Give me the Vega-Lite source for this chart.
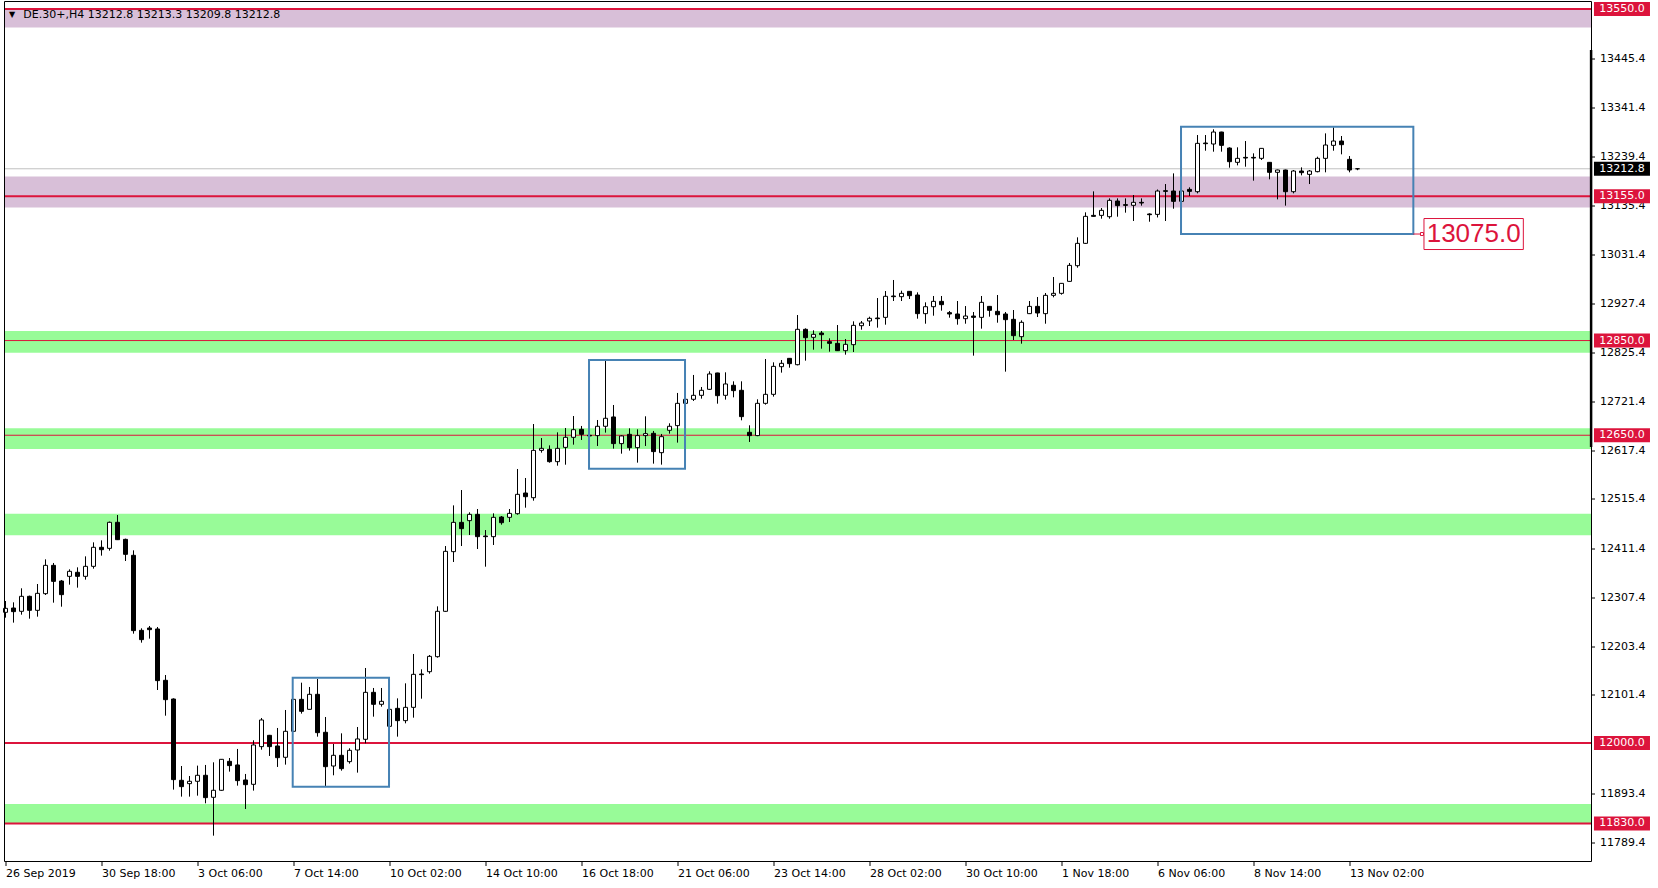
{
  "$schema": "https://vega.github.io/schema/vega-lite/v6.json",
  "usermeta": {"embedOptions": {"actions": false}},
  "width": 1587,
  "height": 860,
  "autosize": {"type": "none"},
  "padding": {"left": 4.5, "top": 1.5, "right": 66.5, "bottom": 26.5},
  "background": "white",
  "config": {"view": {"stroke": null}, "font": "DejaVu Sans", "scale": {"continuousPadding": 0}},
  "datasets": {
    "candles": [
      {"i":0,"o":12276.0,"h":12299.9,"l":12264.7,"c":12284.4},
      {"i":1,"o":12285.1,"h":12297.1,"l":12254.2,"c":12277.4},
      {"i":2,"o":12278.1,"h":12326.7,"l":12271.0,"c":12309.8},
      {"i":3,"o":12309.8,"h":12311.2,"l":12262.6,"c":12280.2},
      {"i":4,"o":12280.2,"h":12335.8,"l":12266.8,"c":12316.1},
      {"i":5,"o":12315.4,"h":12387.9,"l":12312.6,"c":12375.2},
      {"i":6,"o":12375.2,"h":12380.2,"l":12296.4,"c":12341.4},
      {"i":7,"o":12342.1,"h":12344.3,"l":12287.9,"c":12313.3},
      {"i":8,"o":12352.0,"h":12366.8,"l":12334.4,"c":12362.6},
      {"i":9,"o":12360.5,"h":12371.0,"l":12328.1,"c":12352.0},
      {"i":10,"o":12352.0,"h":12394.2,"l":12345.0,"c":12373.1},
      {"i":11,"o":12373.1,"h":12423.8,"l":12368.2,"c":12413.3},
      {"i":12,"o":12413.3,"h":12428.0,"l":12395.7,"c":12408.3},
      {"i":13,"o":12411.1,"h":12467.7,"l":12406.2,"c":12466.1},
      {"i":14,"o":12466.1,"h":12481.5,"l":12428.7,"c":12429.4},
      {"i":15,"o":12430.1,"h":12431.6,"l":12384.4,"c":12398.5},
      {"i":16,"o":12396.4,"h":12406.9,"l":12230.9,"c":12237.3},
      {"i":17,"o":12237.9,"h":12242.2,"l":12211.9,"c":12218.3},
      {"i":18,"o":12242.9,"h":12247.1,"l":12220.4,"c":12239.4},
      {"i":19,"o":12240.8,"h":12245.0,"l":12111.9,"c":12131.7},
      {"i":20,"o":12132.4,"h":12143.6,"l":12057.7,"c":12091.5},
      {"i":21,"o":12092.9,"h":12094.3,"l":11901.5,"c":11922.6},
      {"i":22,"o":11921.2,"h":11951.4,"l":11886.7,"c":11907.8},
      {"i":23,"o":11914.1,"h":11930.3,"l":11886.7,"c":11919.1},
      {"i":24,"o":11919.1,"h":11952.2,"l":11888.8,"c":11931.8},
      {"i":25,"o":11931.8,"h":11953.6,"l":11872.6,"c":11884.6},
      {"i":26,"o":11885.3,"h":11959.2,"l":11804.3,"c":11900.1},
      {"i":27,"o":11900.1,"h":11966.0,"l":11899.0,"c":11965.5},
      {"i":28,"o":11961.3,"h":11968.3,"l":11939.5,"c":11952.2},
      {"i":29,"o":11953.6,"h":11987.4,"l":11909.9,"c":11920.5},
      {"i":30,"o":11921.9,"h":11934.6,"l":11860.6,"c":11912.0},
      {"i":31,"o":11912.7,"h":12005.7,"l":11899.4,"c":11995.8},
      {"i":32,"o":11992.3,"h":12052.8,"l":11985.9,"c":12048.6},
      {"i":33,"o":12016.2,"h":12017.0,"l":11972.6,"c":11992.3},
      {"i":34,"o":11993.7,"h":12031.7,"l":11949.4,"c":11969.0},
      {"i":35,"o":11969.8,"h":12069.7,"l":11954.3,"c":12024.7},
      {"i":36,"o":12024.7,"h":12093.0,"l":12024.0,"c":12092.2},
      {"i":37,"o":12092.2,"h":12127.4,"l":12062.0,"c":12066.9},
      {"i":38,"o":12071.1,"h":12118.3,"l":12071.0,"c":12102.8},
      {"i":39,"o":12102.8,"h":12135.2,"l":12013.4,"c":12021.8},
      {"i":40,"o":12022.6,"h":12054.9,"l":11909.2,"c":11950.0},
      {"i":41,"o":11951.4,"h":11997.9,"l":11931.8,"c":11974.0},
      {"i":42,"o":11974.0,"h":12020.4,"l":11941.6,"c":11945.8},
      {"i":43,"o":11960.6,"h":11988.8,"l":11956.4,"c":11984.5},
      {"i":44,"o":11985.2,"h":12033.8,"l":11937.4,"c":12008.5},
      {"i":45,"o":12007.8,"h":12158.4,"l":11999.3,"c":12107.0},
      {"i":46,"o":12107.0,"h":12116.2,"l":12055.6,"c":12081.7},
      {"i":47,"o":12081.7,"h":12116.2,"l":12076.8,"c":12088.0},
      {"i":48,"o":12035.2,"h":12072.0,"l":12034.0,"c":12071.1},
      {"i":49,"o":12073.2,"h":12094.3,"l":12013.4,"c":12047.2},
      {"i":50,"o":12047.2,"h":12126.0,"l":12041.5,"c":12075.3},
      {"i":51,"o":12075.3,"h":12188.0,"l":12053.5,"c":12145.0},
      {"i":52,"o":12145.7,"h":12155.6,"l":12093.6,"c":12144.3},
      {"i":53,"o":12150.6,"h":12185.8,"l":12146.4,"c":12183.0},
      {"i":54,"o":12182.3,"h":12288.6,"l":12180.2,"c":12278.1},
      {"i":55,"o":12278.1,"h":12416.0,"l":12277.0,"c":12404.8},
      {"i":56,"o":12404.1,"h":12501.9,"l":12382.3,"c":12466.0},
      {"i":57,"o":12466.0,"h":12534.3,"l":12416.0,"c":12452.7},
      {"i":58,"o":12469.6,"h":12487.2,"l":12439.3,"c":12482.9},
      {"i":59,"o":12482.9,"h":12494.2,"l":12409.7,"c":12435.8},
      {"i":60,"o":12437.2,"h":12449.8,"l":12372.4,"c":12435.8},
      {"i":61,"o":12435.8,"h":12485.0,"l":12418.2,"c":12476.6},
      {"i":62,"o":12477.3,"h":12479.4,"l":12461.1,"c":12465.3},
      {"i":63,"o":12476.6,"h":12494.2,"l":12466.7,"c":12485.0},
      {"i":64,"o":12484.3,"h":12578.7,"l":12482.2,"c":12525.2},
      {"i":65,"o":12528.0,"h":12559.7,"l":12497.0,"c":12520.2},
      {"i":66,"o":12518.1,"h":12673.7,"l":12511.8,"c":12618.1},
      {"i":67,"o":12618.1,"h":12644.1,"l":12613.2,"c":12622.3},
      {"i":68,"o":12620.2,"h":12628.6,"l":12592.0,"c":12594.2},
      {"i":69,"o":12594.2,"h":12656.1,"l":12585.7,"c":12622.3},
      {"i":70,"o":12624.4,"h":12665.3,"l":12587.8,"c":12645.6},
      {"i":71,"o":12645.6,"h":12690.6,"l":12630.1,"c":12661.7},
      {"i":72,"o":12662.5,"h":12669.6,"l":12640.0,"c":12651.9},
      {"i":73,"o":12649.9,"h":12651.0,"l":12647.0,"c":12648.5},
      {"i":74,"o":12649.2,"h":12682.2,"l":12627.3,"c":12668.9},
      {"i":75,"o":12668.9,"h":12806.8,"l":12655.5,"c":12685.8},
      {"i":76,"o":12688.6,"h":12713.9,"l":12621.7,"c":12632.3},
      {"i":77,"o":12632.3,"h":12649.9,"l":12611.1,"c":12648.5},
      {"i":78,"o":12651.9,"h":12664.6,"l":12617.5,"c":12623.8},
      {"i":79,"o":12623.8,"h":12662.5,"l":12592.1,"c":12649.2},
      {"i":80,"o":12649.2,"h":12690.0,"l":12627.3,"c":12653.4},
      {"i":81,"o":12654.1,"h":12659.0,"l":12590.0,"c":12615.4},
      {"i":82,"o":12613.2,"h":12652.7,"l":12587.9,"c":12647.0},
      {"i":83,"o":12660.4,"h":12675.2,"l":12653.4,"c":12668.9},
      {"i":84,"o":12670.3,"h":12739.3,"l":12634.4,"c":12717.4},
      {"i":85,"o":12717.4,"h":12727.0,"l":12716.0,"c":12725.9},
      {"i":86,"o":12725.9,"h":12777.3,"l":12722.4,"c":12734.3},
      {"i":87,"o":12734.3,"h":12751.9,"l":12727.3,"c":12744.9},
      {"i":88,"o":12747.0,"h":12785.0,"l":12745.6,"c":12779.4},
      {"i":89,"o":12781.5,"h":12782.0,"l":12716.7,"c":12733.6},
      {"i":90,"o":12734.3,"h":12782.9,"l":12725.2,"c":12758.3},
      {"i":91,"o":12755.5,"h":12763.9,"l":12730.1,"c":12744.2},
      {"i":92,"o":12744.9,"h":12763.9,"l":12681.5,"c":12689.3},
      {"i":93,"o":12656.2,"h":12671.0,"l":12635.8,"c":12649.2},
      {"i":94,"o":12649.2,"h":12725.9,"l":12648.0,"c":12717.4},
      {"i":95,"o":12717.4,"h":12811.0,"l":12714.6,"c":12736.4},
      {"i":96,"o":12736.4,"h":12804.0,"l":12731.5,"c":12795.5},
      {"i":97,"o":12794.8,"h":12808.9,"l":12782.2,"c":12801.9},
      {"i":98,"o":12812.4,"h":12813.0,"l":12792.7,"c":12801.2},
      {"i":99,"o":12799.0,"h":12903.9,"l":12797.6,"c":12873.7},
      {"i":100,"o":12873.7,"h":12875.8,"l":12807.5,"c":12856.1},
      {"i":101,"o":12856.8,"h":12871.6,"l":12830.7,"c":12863.1},
      {"i":102,"o":12865.9,"h":12870.2,"l":12832.8,"c":12862.4},
      {"i":103,"o":12847.6,"h":12854.7,"l":12826.5,"c":12844.1},
      {"i":104,"o":12844.1,"h":12882.8,"l":12828.0,"c":12828.6},
      {"i":105,"o":12828.6,"h":12853.3,"l":12820.2,"c":12842.0},
      {"i":106,"o":12841.3,"h":12890.6,"l":12825.8,"c":12882.1},
      {"i":107,"o":12881.4,"h":12891.3,"l":12873.0,"c":12887.0},
      {"i":108,"o":12891.3,"h":12900.4,"l":12880.7,"c":12896.9},
      {"i":109,"o":12897.6,"h":12939.8,"l":12877.2,"c":12896.2},
      {"i":110,"o":12899.0,"h":12954.6,"l":12883.5,"c":12943.4},
      {"i":111,"o":12944.1,"h":12977.9,"l":12933.5,"c":12942.7},
      {"i":112,"o":12942.7,"h":12955.3,"l":12933.5,"c":12949.7},
      {"i":113,"o":12953.9,"h":12954.0,"l":12937.7,"c":12944.8},
      {"i":114,"o":12946.2,"h":12951.8,"l":12896.2,"c":12906.8},
      {"i":115,"o":12906.8,"h":12930.7,"l":12885.6,"c":12921.5},
      {"i":116,"o":12921.5,"h":12944.1,"l":12902.5,"c":12932.8},
      {"i":117,"o":12932.8,"h":12944.1,"l":12913.1,"c":12925.8},
      {"i":118,"o":12908.9,"h":12912.4,"l":12898.3,"c":12906.1},
      {"i":119,"o":12906.1,"h":12933.5,"l":12883.5,"c":12896.2},
      {"i":120,"o":12896.2,"h":12922.9,"l":12885.6,"c":12901.8},
      {"i":121,"o":12901.8,"h":12910.3,"l":12818.1,"c":12899.0},
      {"i":122,"o":12899.0,"h":12944.1,"l":12875.1,"c":12930.7},
      {"i":123,"o":12922.2,"h":12923.0,"l":12900.4,"c":12913.8},
      {"i":124,"o":12911.7,"h":12946.2,"l":12887.7,"c":12904.6},
      {"i":125,"o":12906.1,"h":12910.3,"l":12784.3,"c":12894.1},
      {"i":126,"o":12894.8,"h":12914.5,"l":12851.1,"c":12860.3},
      {"i":127,"o":12858.2,"h":12892.7,"l":12843.4,"c":12888.5},
      {"i":128,"o":12906.8,"h":12933.5,"l":12906.0,"c":12922.2},
      {"i":129,"o":12922.2,"h":12942.0,"l":12899.7,"c":12908.2},
      {"i":130,"o":12906.8,"h":12950.4,"l":12885.6,"c":12945.5},
      {"i":131,"o":12945.5,"h":12984.2,"l":12941.3,"c":12949.7},
      {"i":132,"o":12949.7,"h":12971.0,"l":12946.9,"c":12970.8},
      {"i":133,"o":12975.0,"h":13013.8,"l":12974.3,"c":13008.8},
      {"i":134,"o":13008.1,"h":13068.0,"l":13003.9,"c":13055.3},
      {"i":135,"o":13055.3,"h":13120.8,"l":13054.0,"c":13112.3},
      {"i":136,"o":13114.4,"h":13165.1,"l":13112.0,"c":13112.3},
      {"i":137,"o":13114.4,"h":13129.9,"l":13107.4,"c":13125.0},
      {"i":138,"o":13111.6,"h":13150.3,"l":13107.4,"c":13146.1},
      {"i":139,"o":13144.7,"h":13150.3,"l":13111.6,"c":13134.9},
      {"i":140,"o":13137.0,"h":13150.3,"l":13120.1,"c":13135.6},
      {"i":141,"o":13135.6,"h":13157.4,"l":13102.5,"c":13141.9},
      {"i":142,"o":13141.9,"h":13150.3,"l":13134.9,"c":13140.5},
      {"i":143,"o":13117.3,"h":13118.7,"l":13101.0,"c":13115.8},
      {"i":144,"o":13116.5,"h":13169.0,"l":13110.0,"c":13165.8},
      {"i":145,"o":13166.5,"h":13180.6,"l":13102.5,"c":13165.1},
      {"i":146,"o":13165.8,"h":13203.1,"l":13128.5,"c":13144.0},
      {"i":147,"o":13144.0,"h":13166.0,"l":13142.6,"c":13165.8},
      {"i":148,"o":13169.3,"h":13173.6,"l":13155.3,"c":13165.1},
      {"i":149,"o":13164.4,"h":13284.1,"l":13160.9,"c":13266.5},
      {"i":150,"o":13267.2,"h":13284.1,"l":13251.0,"c":13265.8},
      {"i":151,"o":13265.1,"h":13296.1,"l":13248.9,"c":13290.4},
      {"i":152,"o":13290.4,"h":13291.0,"l":13248.9,"c":13262.3},
      {"i":153,"o":13256.6,"h":13258.1,"l":13215.1,"c":13227.8},
      {"i":154,"o":13226.4,"h":13258.1,"l":13220.0,"c":13234.8},
      {"i":155,"o":13236.9,"h":13271.4,"l":13217.2,"c":13235.5},
      {"i":156,"o":13236.9,"h":13245.4,"l":13187.7,"c":13235.5},
      {"i":157,"o":13234.8,"h":13256.0,"l":13231.3,"c":13255.9},
      {"i":158,"o":13226.4,"h":13227.0,"l":13190.5,"c":13205.3},
      {"i":159,"o":13205.3,"h":13211.0,"l":13148.2,"c":13210.2},
      {"i":160,"o":13210.2,"h":13211.0,"l":13134.9,"c":13164.4},
      {"i":161,"o":13164.4,"h":13210.2,"l":13160.9,"c":13208.1},
      {"i":162,"o":13208.1,"h":13215.8,"l":13198.9,"c":13204.6},
      {"i":163,"o":13201.0,"h":13210.2,"l":13180.6,"c":13208.1},
      {"i":164,"o":13206.7,"h":13238.3,"l":13205.3,"c":13234.8},
      {"i":165,"o":13234.8,"h":13287.6,"l":13205.3,"c":13263.0},
      {"i":166,"o":13262.3,"h":13300.3,"l":13251.0,"c":13271.4},
      {"i":167,"o":13271.4,"h":13282.0,"l":13243.3,"c":13263.7},
      {"i":168,"o":13232.7,"h":13239.7,"l":13205.3,"c":13210.2},
      {"i":169,"o":13212.8,"h":13213.3,"l":13209.8,"c":13212.8}
    ],
    "purple": [{"lo":13511,"hi":13550},{"lo":13130.9,"hi":13196.4}],
    "green": [{"lo":11830,"hi":11871},{"lo":12439,"hi":12484},{"lo":12621,"hi":12665},{"lo":12824,"hi":12870}],
    "levelsThick": [{"p":13550},{"p":13155},{"p":12000},{"p":11830}],
    "levelsThin": [{"p":12850},{"p":12650}],
    "boxes": [
      {"x1":35.9,"x2":47.94,"y1":11907.7,"y2":12137.9},
      {"x1":72.94,"x2":84.94,"y1":12579.3,"y2":12808.9},
      {"x1":146.94,"x2":175.98,"y1":13075.0,"y2":13301.6}
    ],
    "redTags": [{"p":13550},{"p":13155},{"p":12850},{"p":12650},{"p":12000},{"p":11830}],
    "lastPrice": [{"p":13212.8}],
    "note": [{"p":13075.0}],
    "header": [{"t":"DE.30+,H4  13212.8 13213.3 13209.8 13212.8"}]
  },
  "layer": [
    {
      "data": {"name": "candles"},
      "mark": {"type": "rule", "stroke": "#000000", "strokeWidth": 1, "opacity": 0},
      "encoding": {
        "x": {
          "field": "i", "type": "quantitative", "title": null,
          "scale": {"domain": [-0.125, 198.25], "nice": false, "zero": false, "padding": 0},
          "axis": {
            "title": null, "grid": false, "domain": false,
            "values": [0,12,24,36,48,60,72,84,96,108,120,132,144,156,168],
            "labelExpr": "['26 Sep 2019','30 Sep 18:00','3 Oct 06:00','7 Oct 14:00','10 Oct 02:00','14 Oct 10:00','16 Oct 18:00','21 Oct 06:00','23 Oct 14:00','28 Oct 02:00','30 Oct 10:00','1 Nov 18:00','6 Nov 06:00','8 Nov 14:00','13 Nov 02:00'][round(datum.value/12)]",
            "labelAlign": "left", "labelBaseline": "top", "labelPadding": 2,
            "labelFont": "DejaVu Sans", "labelFontSize": 11, "labelColor": "#000000",
            "tickColor": "#000000", "tickSize": 4, "tickWidth": 1,
            "labelOverlap": false, "labelFlush": false, "labelBound": false
          }
        },
        "y": {
          "field": "l", "type": "quantitative", "title": null,
          "scale": {"domain": [11749.7, 13566.1], "nice": false, "zero": false, "padding": 0},
          "axis": {
            "title": null, "orient": "right", "grid": false, "domain": false,
            "values": [13445.4,13341.4,13239.4,13135.4,13031.4,12927.4,12825.4,12721.4,12617.4,12515.4,12411.4,12307.4,12203.4,12101.4,11893.4,11789.4],
            "format": ".1f",
            "labelAlign": "left", "labelBaseline": "middle", "labelPadding": 5,
            "labelFont": "DejaVu Sans", "labelFontSize": 11, "labelColor": "#000000",
            "tickColor": "#000000", "tickSize": 3, "tickWidth": 1,
            "labelOverlap": false, "labelFlush": false, "labelBound": false
          }
        },
        "y2": {"field": "h"}
      }
    },
    {
      "data": {"name": "purple"},
      "mark": {"type": "rect", "fill": "#D8BFD8"},
      "encoding": {
        "y": {"field": "lo", "type": "quantitative", "title": null},
        "y2": {"field": "hi"}
      }
    },
    {
      "data": {"name": "green"},
      "mark": {"type": "rect", "fill": "#98FB98"},
      "encoding": {
        "y": {"field": "lo", "type": "quantitative", "title": null},
        "y2": {"field": "hi"}
      }
    },
    {
      "data": {"name": "levelsThick"},
      "mark": {"type": "rule", "stroke": "#DC143C", "strokeWidth": 2},
      "encoding": {"y": {"field": "p", "type": "quantitative", "title": null}}
    },
    {
      "data": {"name": "levelsThin"},
      "mark": {"type": "rule", "stroke": "#DC143C", "strokeWidth": 1},
      "encoding": {"y": {"field": "p", "type": "quantitative", "title": null}}
    },
    {
      "data": {"name": "lastPrice"},
      "mark": {"type": "rule", "stroke": "#C0C0C0", "strokeWidth": 1},
      "encoding": {"y": {"field": "p", "type": "quantitative", "title": null}}
    },
    {
      "data": {"name": "candles"},
      "mark": {"type": "rule", "stroke": "#000000", "strokeWidth": 1},
      "encoding": {
        "x": {"field": "i", "type": "quantitative", "title": null},
        "y": {"field": "l", "type": "quantitative", "title": null},
        "y2": {"field": "h"}
      }
    },
    {
      "data": {"name": "candles"},
      "mark": {"type": "bar", "width": 4, "stroke": "#000000", "strokeWidth": 1},
      "encoding": {
        "x": {"field": "i", "type": "quantitative", "title": null},
        "y": {"field": "o", "type": "quantitative", "title": null},
        "y2": {"field": "c"},
        "fill": {"condition": {"test": "datum.c >= datum.o", "value": "#FFFFFF"}, "value": "#000000"}
      }
    },
    {
      "data": {"name": "boxes"},
      "mark": {"type": "rect", "fill": null, "fillOpacity": 0, "stroke": "#4682B4", "strokeWidth": 2},
      "encoding": {
        "x": {"field": "x1", "type": "quantitative", "title": null},
        "x2": {"field": "x2"},
        "y": {"field": "y1", "type": "quantitative", "title": null},
        "y2": {"field": "y2"}
      }
    },
    {
      "data": {"name": "note"},
      "mark": {"type": "rule", "stroke": "#DC143C", "strokeWidth": 1},
      "encoding": {
        "x": {"datum": 175.98, "type": "quantitative", "title": null},
        "x2": {"datum": 177.31},
        "y": {"field": "p", "type": "quantitative", "title": null}
      }
    },
    {
      "data": {"name": "note"},
      "mark": {"type": "bar", "height": 31, "fill": "#FFFFFF", "stroke": "#DC143C", "strokeWidth": 1},
      "encoding": {
        "x": {"datum": 177.31, "type": "quantitative", "title": null},
        "x2": {"datum": 189.73},
        "y": {"field": "p", "type": "quantitative", "title": null}
      }
    },
    {
      "data": {"name": "note"},
      "mark": {"type": "square", "size": 9, "filled": true, "stroke": "#DC143C", "fill": "#FFFFFF", "strokeWidth": 1, "opacity": 1},
      "encoding": {
        "x": {"datum": 177.06, "type": "quantitative", "title": null},
        "y": {"field": "p", "type": "quantitative", "title": null}
      }
    },
    {
      "data": {"name": "note"},
      "mark": {"type": "text", "align": "left", "baseline": "middle", "font": "Liberation Sans", "fontSize": 26, "fill": "#DC143C"},
      "encoding": {
        "x": {"datum": 177.65, "type": "quantitative", "title": null},
        "y": {"field": "p", "type": "quantitative", "title": null},
        "text": {"field": "p", "type": "quantitative", "format": ".1f"}
      }
    },
    {
      "data": {"values": [{}]},
      "mark": {"type": "rect", "fill": null, "fillOpacity": 0, "stroke": "#000000", "strokeWidth": 1},
      "encoding": {
        "x": {"datum": -0.125, "type": "quantitative", "title": null},
        "x2": {"datum": 198.25},
        "y": {"datum": 11749.7, "type": "quantitative", "title": null},
        "y2": {"datum": 13566.1}
      }
    },
    {
      "data": {"values": [{}]},
      "mark": {"type": "rule", "stroke": "#000000", "strokeWidth": 2.5},
      "encoding": {
        "x": {"datum": 198.2, "type": "quantitative", "title": null},
        "y": {"datum": 12625.2, "type": "quantitative", "title": null},
        "y2": {"datum": 13463.6}
      }
    },
    {
      "data": {"name": "redTags"},
      "mark": {"type": "bar", "height": 14, "fill": "#DC143C"},
      "encoding": {
        "x": {"datum": 198.56, "type": "quantitative", "title": null},
        "x2": {"datum": 205.56},
        "y": {"field": "p", "type": "quantitative", "title": null}
      }
    },
    {
      "data": {"name": "lastPrice"},
      "mark": {"type": "bar", "height": 14, "fill": "#000000"},
      "encoding": {
        "x": {"datum": 198.56, "type": "quantitative", "title": null},
        "x2": {"datum": 205.56},
        "y": {"field": "p", "type": "quantitative", "title": null}
      }
    },
    {
      "data": {"name": "redTags"},
      "mark": {"type": "text", "align": "left", "baseline": "middle", "font": "DejaVu Sans", "fontSize": 11, "fill": "#FFFFFF"},
      "encoding": {
        "x": {"datum": 199.22, "type": "quantitative", "title": null},
        "y": {"field": "p", "type": "quantitative", "title": null},
        "text": {"field": "p", "type": "quantitative", "format": ".1f"}
      }
    },
    {
      "data": {"name": "lastPrice"},
      "mark": {"type": "text", "align": "left", "baseline": "middle", "font": "DejaVu Sans", "fontSize": 11, "fill": "#FFFFFF"},
      "encoding": {
        "x": {"datum": 199.22, "type": "quantitative", "title": null},
        "y": {"field": "p", "type": "quantitative", "title": null},
        "text": {"field": "p", "type": "quantitative", "format": ".1f"}
      }
    },
    {
      "data": {"name": "header"},
      "mark": {"type": "text", "align": "center", "baseline": "middle", "font": "DejaVu Sans", "fontSize": 8, "fill": "#000000", "text": "▼"},
      "encoding": {
        "x": {"datum": 0.81, "type": "quantitative", "title": null},
        "y": {"datum": 13538.6, "type": "quantitative", "title": null}
      }
    },
    {
      "data": {"name": "header"},
      "mark": {"type": "text", "align": "left", "baseline": "middle", "font": "DejaVu Sans", "fontSize": 11, "fill": "#000000"},
      "encoding": {
        "x": {"datum": 2.225, "type": "quantitative", "title": null},
        "y": {"datum": 13538.2, "type": "quantitative", "title": null},
        "text": {"field": "t", "type": "nominal"}
      }
    }
  ]
}
